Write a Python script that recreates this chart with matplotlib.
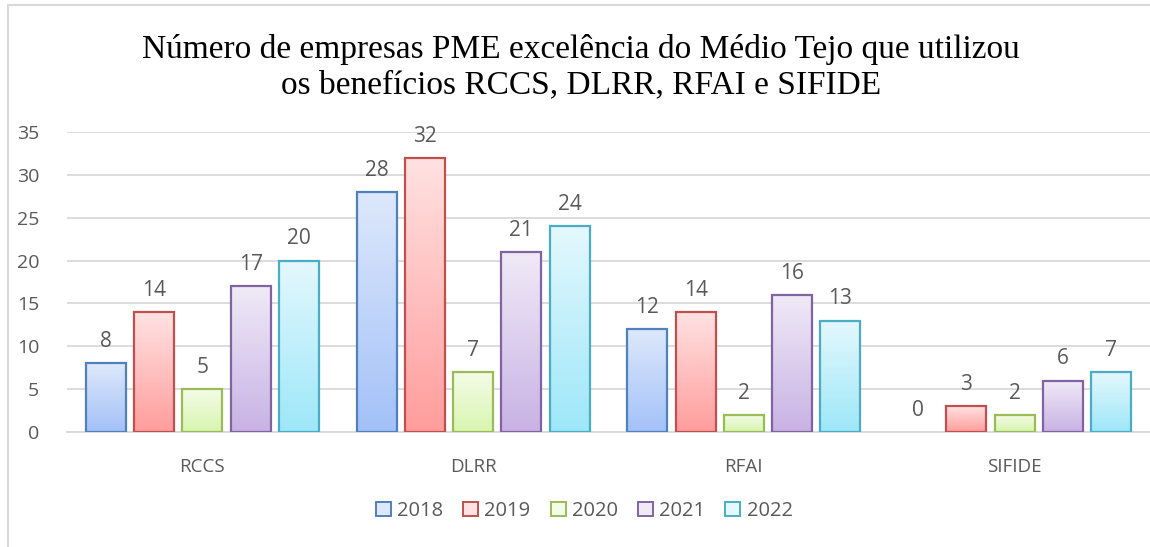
import matplotlib
matplotlib.use("Agg")
import matplotlib.pyplot as plt
import numpy as np
from matplotlib.colors import LinearSegmentedColormap
from matplotlib.patches import Rectangle, Patch

categories = ["RCCS", "DLRR", "RFAI", "SIFIDE"]
years = ["2018", "2019", "2020", "2021", "2022"]
v2018 = [8, 28, 12, 0]
v2019 = [14, 32, 14, 3]
v2020 = [5, 7, 2, 2]
v2021 = [17, 21, 16, 6]
v2022 = [20, 24, 13, 7]
series = [v2018, v2019, v2020, v2021, v2022]
yticks = [0, 5, 10, 15, 20, 25, 30, 35]
title = "Número de empresas PME excelência do Médio Tejo que utilizou\nos benefícios RCCS, DLRR, RFAI e SIFIDE"

edge_colors = ["#4f81bd", "#c0504d", "#9bbb59", "#8064a2", "#4bacc6"]
top_colors = ["#dde8fb", "#ffe2e2", "#f4fce8", "#f0eaf7", "#e4f8fd"]
bot_colors = ["#a3c1f8", "#ff9d9c", "#d8f5ae", "#c8b2e4", "#9de7f9"]

text_gray = "#595959"
grid_gray = "#d9d9d9"
sans = ["Open Sans", "DejaVu Sans"]

fig = plt.figure(figsize=(11.5, 5.47), dpi=100)
fig.patches.append(Rectangle((8/1150, -0.1), 1.2, (547-5)/547 + 0.1, transform=fig.transFigure,
                             fill=False, edgecolor="#d9d9d9", linewidth=1.5))
ax = fig.add_axes([67/1150, 115/547, (1150-67)/1150, 300/547])

n = len(years)
x = np.arange(len(categories))
width = 40/271
pitch = 48.3/271
for i, (vals, ec) in enumerate(zip(series, edge_colors)):
    pos = x + (i - (n-1)/2) * pitch
    lws = [1.6 if v > 0 else 0 for v in vals]
    bars = ax.bar(pos, vals, width=width, facecolor="none", edgecolor=ec, linewidth=lws,
                  zorder=3, label=years[i])
    cmap = LinearSegmentedColormap.from_list("g%d" % i, [top_colors[i], bot_colors[i]])
    grad = np.linspace(0, 1, 256).reshape(-1, 1)
    for b, v in zip(bars, vals):
        if v > 0:
            im = ax.imshow(grad, cmap=cmap, aspect="auto",
                           extent=(b.get_x(), b.get_x() + b.get_width(), 0, b.get_height()),
                           origin="upper", zorder=2)
            im.set_clip_path(b)
        ax.annotate(str(v), (b.get_x() + b.get_width()/2, v), xytext=(0, 8),
                    textcoords="offset points", ha="center", va="bottom",
                    fontsize=15, color=text_gray, family=sans)

ax.set_xlim(-0.5, len(categories) - 0.5)
ax.set_ylim(0, 35)
ax.set_yticks(yticks)
ax.set_yticklabels([str(t) for t in yticks], fontsize=14, color=text_gray, family=sans)
ax.set_xticks(x)
ax.set_xticklabels(categories, fontsize=13.5, color=text_gray, family=sans)
ax.tick_params(axis="both", length=0)
ax.tick_params(axis="y", pad=20)
ax.tick_params(axis="x", pad=19)
ax.yaxis.grid(True, color=grid_gray, linewidth=1.3, zorder=0)
ax.set_axisbelow(True)
for s in ["top", "right", "left"]:
    ax.spines[s].set_visible(False)
ax.spines["bottom"].set_color(grid_gray)
ax.spines["bottom"].set_linewidth(1.3)

fig.text(0.505, 0.937, title, ha="center", va="top", fontsize=24,
         family=["Liberation Serif", "DejaVu Serif"], color="#000000", linespacing=1.17)

proxies = [Patch(facecolor=top_colors[i], edgecolor=edge_colors[i], linewidth=1.4) for i in range(n)]
leg = fig.legend(proxies, years, loc="center", bbox_to_anchor=(0.508, 36/547), ncol=n,
                 frameon=False, prop={"family": "Open Sans", "size": 14.5},
                 handlelength=0.75, handleheight=0.75, handletextpad=0.3, columnspacing=1.0)
for t in leg.get_texts():
    t.set_color(text_gray)

fig.savefig("out.png", dpi=100)
